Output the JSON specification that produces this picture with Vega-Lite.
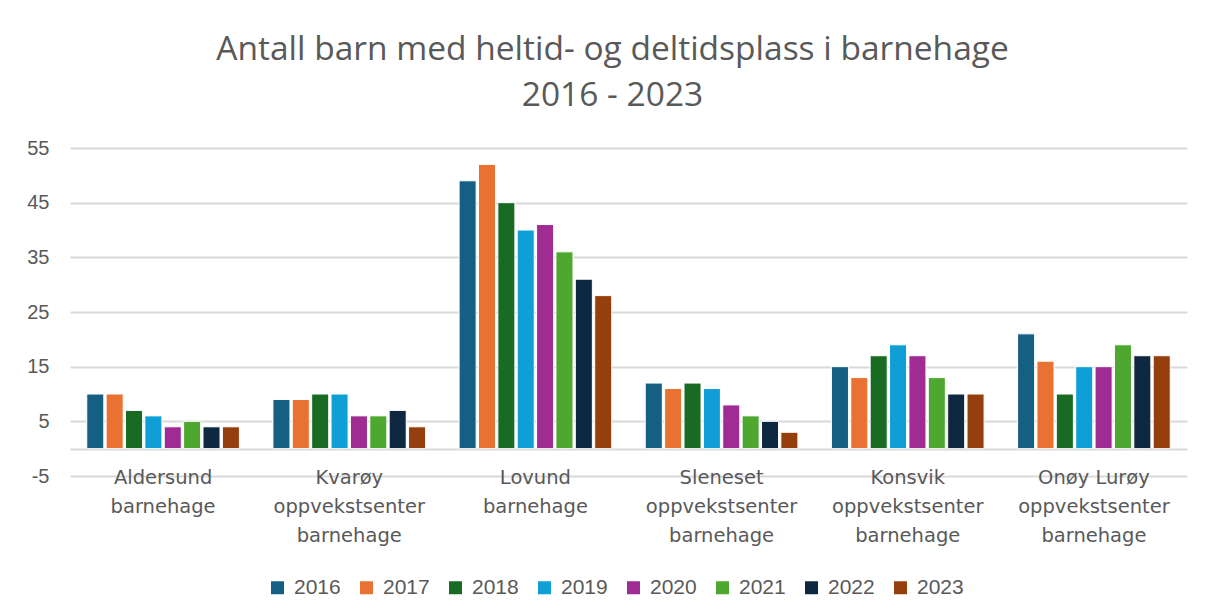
{
  "$schema": "https://vega.github.io/schema/vega-lite/v6.json",
  "width": 1117,
  "height": 328,
  "autosize": "none",
  "padding": {"left": 70, "top": 148, "right": 22, "bottom": 140},
  "background": "white",
  "title": {
    "text": ["Antall barn med heltid- og deltidsplass i barnehage", "2016 - 2023"],
    "anchor": "middle",
    "frame": "group",
    "dx": -16,
    "offset": 25,
    "fontSize": 33.5,
    "font": "Open Sans",
    "fontWeight": "normal",
    "color": "#595959",
    "lineHeight": 46
  },
  "data": {
    "values": [
      {"barnehage": "Aldersund barnehage", "aar": "2016", "antall": 10},
      {"barnehage": "Aldersund barnehage", "aar": "2017", "antall": 10},
      {"barnehage": "Aldersund barnehage", "aar": "2018", "antall": 7},
      {"barnehage": "Aldersund barnehage", "aar": "2019", "antall": 6},
      {"barnehage": "Aldersund barnehage", "aar": "2020", "antall": 4},
      {"barnehage": "Aldersund barnehage", "aar": "2021", "antall": 5},
      {"barnehage": "Aldersund barnehage", "aar": "2022", "antall": 4},
      {"barnehage": "Aldersund barnehage", "aar": "2023", "antall": 4},
      {"barnehage": "Kvarøy oppvekstsenter barnehage", "aar": "2016", "antall": 9},
      {"barnehage": "Kvarøy oppvekstsenter barnehage", "aar": "2017", "antall": 9},
      {"barnehage": "Kvarøy oppvekstsenter barnehage", "aar": "2018", "antall": 10},
      {"barnehage": "Kvarøy oppvekstsenter barnehage", "aar": "2019", "antall": 10},
      {"barnehage": "Kvarøy oppvekstsenter barnehage", "aar": "2020", "antall": 6},
      {"barnehage": "Kvarøy oppvekstsenter barnehage", "aar": "2021", "antall": 6},
      {"barnehage": "Kvarøy oppvekstsenter barnehage", "aar": "2022", "antall": 7},
      {"barnehage": "Kvarøy oppvekstsenter barnehage", "aar": "2023", "antall": 4},
      {"barnehage": "Lovund barnehage", "aar": "2016", "antall": 49},
      {"barnehage": "Lovund barnehage", "aar": "2017", "antall": 52},
      {"barnehage": "Lovund barnehage", "aar": "2018", "antall": 45},
      {"barnehage": "Lovund barnehage", "aar": "2019", "antall": 40},
      {"barnehage": "Lovund barnehage", "aar": "2020", "antall": 41},
      {"barnehage": "Lovund barnehage", "aar": "2021", "antall": 36},
      {"barnehage": "Lovund barnehage", "aar": "2022", "antall": 31},
      {"barnehage": "Lovund barnehage", "aar": "2023", "antall": 28},
      {"barnehage": "Sleneset oppvekstsenter barnehage", "aar": "2016", "antall": 12},
      {"barnehage": "Sleneset oppvekstsenter barnehage", "aar": "2017", "antall": 11},
      {"barnehage": "Sleneset oppvekstsenter barnehage", "aar": "2018", "antall": 12},
      {"barnehage": "Sleneset oppvekstsenter barnehage", "aar": "2019", "antall": 11},
      {"barnehage": "Sleneset oppvekstsenter barnehage", "aar": "2020", "antall": 8},
      {"barnehage": "Sleneset oppvekstsenter barnehage", "aar": "2021", "antall": 6},
      {"barnehage": "Sleneset oppvekstsenter barnehage", "aar": "2022", "antall": 5},
      {"barnehage": "Sleneset oppvekstsenter barnehage", "aar": "2023", "antall": 3},
      {"barnehage": "Konsvik oppvekstsenter barnehage", "aar": "2016", "antall": 15},
      {"barnehage": "Konsvik oppvekstsenter barnehage", "aar": "2017", "antall": 13},
      {"barnehage": "Konsvik oppvekstsenter barnehage", "aar": "2018", "antall": 17},
      {"barnehage": "Konsvik oppvekstsenter barnehage", "aar": "2019", "antall": 19},
      {"barnehage": "Konsvik oppvekstsenter barnehage", "aar": "2020", "antall": 17},
      {"barnehage": "Konsvik oppvekstsenter barnehage", "aar": "2021", "antall": 13},
      {"barnehage": "Konsvik oppvekstsenter barnehage", "aar": "2022", "antall": 10},
      {"barnehage": "Konsvik oppvekstsenter barnehage", "aar": "2023", "antall": 10},
      {"barnehage": "Onøy Lurøy oppvekstsenter barnehage", "aar": "2016", "antall": 21},
      {"barnehage": "Onøy Lurøy oppvekstsenter barnehage", "aar": "2017", "antall": 16},
      {"barnehage": "Onøy Lurøy oppvekstsenter barnehage", "aar": "2018", "antall": 10},
      {"barnehage": "Onøy Lurøy oppvekstsenter barnehage", "aar": "2019", "antall": 15},
      {"barnehage": "Onøy Lurøy oppvekstsenter barnehage", "aar": "2020", "antall": 15},
      {"barnehage": "Onøy Lurøy oppvekstsenter barnehage", "aar": "2021", "antall": 19},
      {"barnehage": "Onøy Lurøy oppvekstsenter barnehage", "aar": "2022", "antall": 17},
      {"barnehage": "Onøy Lurøy oppvekstsenter barnehage", "aar": "2023", "antall": 17}
    ]
  },
  "mark": {"type": "bar", "stroke": "white", "strokeWidth": 1},
  "encoding": {
    "x": {
      "field": "barnehage",
      "type": "nominal",
      "sort": ["Aldersund barnehage", "Kvarøy oppvekstsenter barnehage", "Lovund barnehage", "Sleneset oppvekstsenter barnehage", "Konsvik oppvekstsenter barnehage", "Onøy Lurøy oppvekstsenter barnehage"],
      "scale": {"paddingInner": 0.18, "paddingOuter": 0.09},
      "axis": {
        "title": null,
        "domain": false,
        "ticks": false,
        "labelAngle": 0,
        "labelPadding": -8,
        "labelFont": "DejaVu Sans",
        "labelFontSize": 19.5,
        "labelColor": "#595959",
        "labelLineHeight": 29,
        "labelLimit": 300,
        "labelExpr": "split(replace(replace(datum.label, ' barnehage', '|barnehage'), ' oppvekstsenter', '|oppvekstsenter'), '|')"
      }
    },
    "xOffset": {
      "field": "aar",
      "type": "nominal",
      "scale": {"paddingInner": 0.12}
    },
    "y": {
      "field": "antall",
      "type": "quantitative",
      "scale": {"domain": [-5, 55], "nice": false, "zero": false},
      "axis": {
        "title": null,
        "values": [-5, 0, 5, 15, 25, 35, 45, 55],
        "labelExpr": "datum.value == 0 ? '' : toString(datum.value)",
        "domain": false,
        "ticks": false,
        "labelFont": "Liberation Sans",
        "labelFontSize": 20,
        "labelColor": "#595959",
        "labelPadding": 21,
        "gridColor": "#d9d9d9",
        "gridWidth": 2
      }
    },
    "color": {
      "field": "aar",
      "type": "nominal",
      "scale": {
        "domain": ["2016", "2017", "2018", "2019", "2020", "2021", "2022", "2023"],
        "range": ["#156082", "#E97132", "#196B24", "#0F9ED5", "#A02B93", "#4EA72E", "#0E2841", "#953F0F"]
      },
      "legend": {
        "orient": "none",
        "legendX": 197,
        "legendY": 429,
        "direction": "horizontal",
        "title": null,
        "symbolType": "square",
        "symbolSize": 169,
        "symbolStrokeWidth": 0,
        "labelFont": "Liberation Sans",
        "labelFontSize": 21,
        "labelColor": "#595959",
        "labelOffset": 6,
        "columnPadding": 15
      }
    }
  },
  "config": {"view": {"stroke": null}}
}
